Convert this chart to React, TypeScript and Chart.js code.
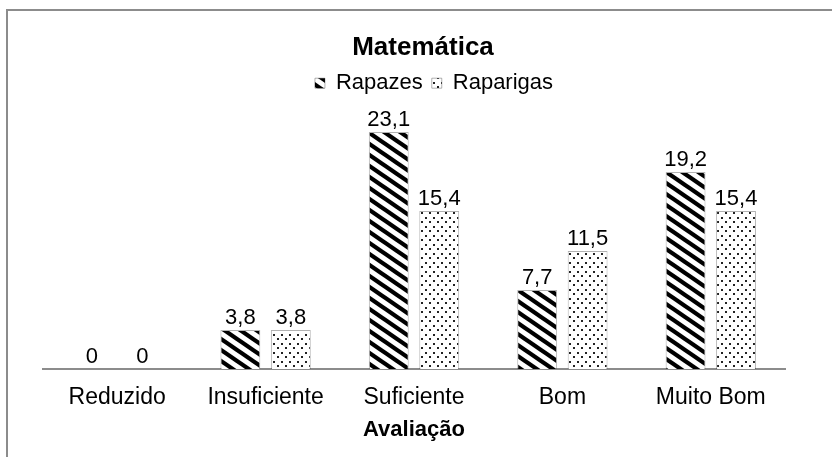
import React, { useEffect, useRef } from "react";
import { Chart, registerables } from "chart.js";

Chart.register(...registerables);

const categories = ["Reduzido", "Insuficiente", "Suficiente", "Bom", "Muito Bom"];
const rapazes = [0, 3.8, 23.1, 7.7, 19.2];
const raparigas = [0, 3.8, 15.4, 11.5, 15.4];
const seriesNames = ["Rapazes", "Raparigas"];
const chartTitle = "Matemática";
const axisTitle = "Avaliação";

const FONT = "'Liberation Sans', Arial, sans-serif";

function makeStripes(): CanvasPattern | string {
  const c = document.createElement("canvas");
  const w = 16, h = 11;
  c.width = w; c.height = h;
  const g = c.getContext("2d");
  if (!g) return "#000";
  g.fillStyle = "#fff";
  g.fillRect(0, 0, w, h);
  g.strokeStyle = "#000";
  g.lineWidth = 4.2;
  for (const o of [-w, 0, w]) {
    g.beginPath();
    g.moveTo(o - w, -h);
    g.lineTo(o + 2 * w, 2 * h);
    g.stroke();
  }
  const p = g.createPattern(c, "repeat");
  return p || "#000";
}

function makeDots(): CanvasPattern | string {
  const c = document.createElement("canvas");
  const w = 8, h = 9;
  c.width = w; c.height = h;
  const g = c.getContext("2d");
  if (!g) return "#ccc";
  g.fillStyle = "#fff";
  g.fillRect(0, 0, w, h);
  g.fillStyle = "#222";
  g.fillRect(1, 1, 2, 2);
  g.fillRect(5, 5, 2, 2);
  const p = g.createPattern(c, "repeat");
  return p || "#ccc";
}

const framePlugin = {
  id: "frame",
  afterLayout(chart: any) {
    // the reference places its title and legend slightly right of centre
    if (chart.titleBlock) {
      chart.titleBlock.left += 9;
      chart.titleBlock.right += 9;
    }
    if (chart.legend) {
      chart.legend.left += 20;
      chart.legend.right += 20;
    }
  },
  beforeDraw(chart: any) {
    const ctx = chart.ctx;
    ctx.save();
    ctx.fillStyle = "#fff";
    ctx.fillRect(0, 0, chart.width, chart.height);
    ctx.strokeStyle = "#8c8c8c";
    ctx.lineWidth = 2;
    ctx.beginPath();
    ctx.moveTo(7, chart.height);
    ctx.lineTo(7, 10);
    ctx.lineTo(chart.width, 10);
    ctx.stroke();
    ctx.restore();
  },
};

const valueLabels = {
  id: "valueLabels",
  afterDatasetsDraw(chart: any) {
    const ctx = chart.ctx;
    ctx.save();
    ctx.font = `22px ${FONT}`;
    ctx.fillStyle = "#000";
    ctx.textAlign = "center";
    ctx.textBaseline = "bottom";
    chart.data.datasets.forEach((ds: any, i: number) => {
      const meta = chart.getDatasetMeta(i);
      meta.data.forEach((el: any, j: number) => {
        const v = ds.data[j];
        const txt = String(v).replace(".", ",");
        ctx.fillText(txt, el.x, el.y - 1);
      });
    });
    ctx.restore();
  },
};

export default function App() {
  const ref = useRef<HTMLCanvasElement | null>(null);
  useEffect(() => {
    if (!ref.current) return;
    const stripes = makeStripes();
    const dots = makeDots();
    const chart = new Chart(ref.current, {
      type: "bar",
      data: {
        labels: categories,
        datasets: [
          {
            label: seriesNames[0],
            data: rapazes,
            backgroundColor: stripes as any,
            borderColor: "rgba(0,0,0,0.3)",
            borderWidth: 1,
            categoryPercentage: 0.68,
            barPercentage: 0.79,
          },
          {
            label: seriesNames[1],
            data: raparigas,
            backgroundColor: dots as any,
            borderColor: "rgba(0,0,0,0.3)",
            borderWidth: 1,
            categoryPercentage: 0.68,
            barPercentage: 0.79,
          },
        ],
      },
      options: {
        responsive: false,
        animation: false,
        layout: { padding: { left: 43, right: 47, top: 18, bottom: 13.8 } },
        plugins: {
          title: {
            display: true,
            text: chartTitle,
            color: "#000",
            font: { family: FONT, size: 26, weight: "bold" },
            padding: { top: 14, bottom: 0 },
          },
          legend: {
            display: true,
            position: "top",
            labels: {
              color: "#000",
              font: { family: FONT, size: 22 },
              boxWidth: 10,
              boxHeight: 10,
              padding: 9,
            },
          },
          tooltip: { enabled: false },
        },
        scales: {
          x: {
            grid: { display: false, drawTicks: false },
            border: { display: true, color: "#8c8c8c", width: 2 },
            ticks: { color: "#000", font: { family: FONT, size: 23 }, padding: 15, maxRotation: 0 },
            title: {
              display: true,
              text: axisTitle,
              color: "#000",
              font: { family: FONT, size: 22, weight: "bold" },
              padding: { top: -9.8, bottom: 0 },
            },
          },
          y: {
            display: false,
            min: 0,
            max: 25.8,
          },
        },
      },
      plugins: [framePlugin, valueLabels],
    });
    return () => chart.destroy();
  }, []);
  return (
    <div style={{ position: "absolute", left: 0, top: 0, width: 832, height: 457 }}>
      <canvas ref={ref} width={832} height={457} style={{ width: 832, height: 457, display: "block" }} />
    </div>
  );
}
